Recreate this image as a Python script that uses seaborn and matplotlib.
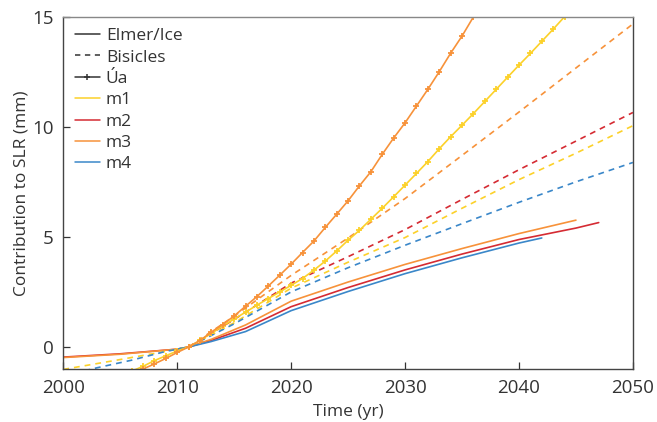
import numpy as np
import pandas as pd
import matplotlib
matplotlib.use("Agg")
import matplotlib.pyplot as plt
from matplotlib.lines import Line2D
import seaborn as sns

# ---- data: contribution to sea-level rise (mm) per model and melt scenario ----
years_elmer_long = [2000, 2005, 2010, 2011, 2013, 2016, 2020, 2025, 2030, 2035, 2040, 2045, 2047]
elmer_m2 = [-0.46, -0.31, -0.1, 0.0, 0.3, 0.85, 1.83, 2.7, 3.5, 4.22, 4.88, 5.4, 5.65]
years_elmer_m3 = [2000, 2005, 2010, 2011, 2013, 2016, 2020, 2025, 2030, 2035, 2040, 2045]
elmer_m3 = [-0.48, -0.33, -0.1, 0.0, 0.35, 1.0, 2.08, 2.95, 3.75, 4.47, 5.15, 5.76]
years_elmer_m4 = [2010, 2011, 2013, 2016, 2020, 2025, 2030, 2035, 2040, 2042]
elmer_m4 = [-0.1, 0.0, 0.25, 0.7, 1.65, 2.52, 3.33, 4.05, 4.72, 4.95]

years_bis_m1 = [2000, 2005, 2009, 2011, 2015, 2020, 2025, 2030, 2035, 2040, 2045, 2050]
bisicles_m1 = [-1.02, -0.57, -0.2, 0.0, 1.1, 2.67, 3.85, 4.97, 6.3, 7.6, 8.8, 10.05]
years_bis_m4 = [2000, 2003, 2006, 2009, 2011, 2015, 2020, 2025, 2030, 2035, 2040, 2045, 2050]
bisicles_m4 = [-1.31, -0.94, -0.6, -0.2, 0.0, 1.05, 2.5, 3.6, 4.62, 5.6, 6.57, 7.5, 8.38]
years_bis = [2011, 2015, 2020, 2025, 2030, 2035, 2040, 2045, 2050]
bisicles_m2 = [0.0, 1.25, 2.9, 4.1, 5.33, 6.7, 8.05, 9.35, 10.65]
bisicles_m3 = [0.0, 1.4, 3.25, 4.95, 6.74, 8.7, 10.67, 12.67, 14.67]

years_ua_m1 = list(range(2006, 2045))
ua_m1 = [-1.1, -0.88, -0.62, -0.4, -0.18, 0.0, 0.3, 0.62, 0.95, 1.27,
         1.58, 1.9, 2.2, 2.5, 2.8, 3.11, 3.49, 3.9, 4.36, 4.85,
         5.3, 5.8, 6.3, 6.82, 7.35, 7.88, 8.42, 9.0, 9.55, 10.07,
         10.6, 11.15, 11.7, 12.25, 12.8, 13.33, 13.88, 14.43, 15.0]
years_ua_m3 = list(range(2006, 2037))
ua_m3 = [-1.25, -1.0, -0.77, -0.52, -0.25, 0.0, 0.29, 0.68, 1.02, 1.41,
         1.85, 2.29, 2.77, 3.26, 3.76, 4.29, 4.81, 5.43, 6.03, 6.64,
         7.32, 7.96, 8.75, 9.49, 10.18, 10.94, 11.7, 12.5, 13.34, 14.12, 14.99]

scenario_colors = {"m1": "#fcd12a", "m2": "#d52b33", "m3": "#f7923a", "m4": "#3a87c9"}

sns.set_theme(style="white")
plt.rcParams["font.family"] = ["Open Sans", "DejaVu Sans"]

fig = plt.figure(figsize=(6.57, 4.22), dpi=100)
ax = fig.add_axes([0.0963, 0.1256, 0.867, 0.8348])

lw = 1.2
dash = (0, (3.5, 3))

# Elmer/Ice (solid)
for x, y, m in [(years_elmer_long, elmer_m2, "m2"), (years_elmer_m3, elmer_m3, "m3"),
                (years_elmer_m4, elmer_m4, "m4")]:
    sns.lineplot(x=x, y=y, ax=ax, color=scenario_colors[m], linewidth=lw, linestyle="-")

# Bisicles (dashed)
for x, y, m in [(years_bis_m1, bisicles_m1, "m1"), (years_bis_m4, bisicles_m4, "m4"),
                (years_bis, bisicles_m2, "m2"), (years_bis, bisicles_m3, "m3")]:
    sns.lineplot(x=x, y=y, ax=ax, color=scenario_colors[m], linewidth=lw, linestyle=dash)

# Úa (solid with + markers at yearly steps)
for x, y, m in [(years_ua_m1, ua_m1, "m1"), (years_ua_m3, ua_m3, "m3")]:
    c = scenario_colors[m]
    sns.lineplot(x=x, y=y, ax=ax, color=c, linewidth=lw, linestyle="-",
                 marker="+", markersize=5, markeredgewidth=1.3,
                 markeredgecolor=c, markerfacecolor=c)

ax.set_xlim(2000, 2050)
ax.set_ylim(-1, 15)
ax.set_xticks([2000, 2010, 2020, 2030, 2040, 2050])
ax.set_yticks([0, 5, 10, 15])
ax.tick_params(axis="both", direction="in", length=5, width=0.9, colors="#333333",
               labelsize=13.5, labelcolor="#333333", pad=7, bottom=True, left=True)
ax.set_xlabel("Time (yr)", fontsize=12.5, color="#333333", labelpad=5)
ax.set_ylabel("Contribution to SLR (mm)", fontsize=12.5, color="#333333", labelpad=2)
for side, sp in ax.spines.items():
    sp.set_visible(True)
    sp.set_linewidth(1.0)
    sp.set_color("#444444" if side in ("left", "bottom", "right") else "#888888")

dark = "#333333"
handles = [
    Line2D([], [], color=dark, lw=1.1, ls="-"),
    Line2D([], [], color=dark, lw=1.1, ls=(0, (3.5, 3))),
    Line2D([], [], color=dark, lw=1.1, marker="+", markersize=5, markeredgewidth=1.1),
    Line2D([], [], color=scenario_colors["m1"], lw=1.1),
    Line2D([], [], color=scenario_colors["m2"], lw=1.1),
    Line2D([], [], color=scenario_colors["m3"], lw=1.1),
    Line2D([], [], color=scenario_colors["m4"], lw=1.1),
]
labels = ["Elmer/Ice", "Bisicles", "Úa", "m1", "m2", "m3", "m4"]
leg = ax.legend(handles, labels, loc="upper left", frameon=False, fontsize=12.5,
                handlelength=1.45, handletextpad=0.35, labelspacing=0.3,
                borderaxespad=0.25, bbox_to_anchor=(0.0, 1.0))
for t in leg.get_texts():
    t.set_color(dark)

fig.savefig("out.png", dpi=100)
